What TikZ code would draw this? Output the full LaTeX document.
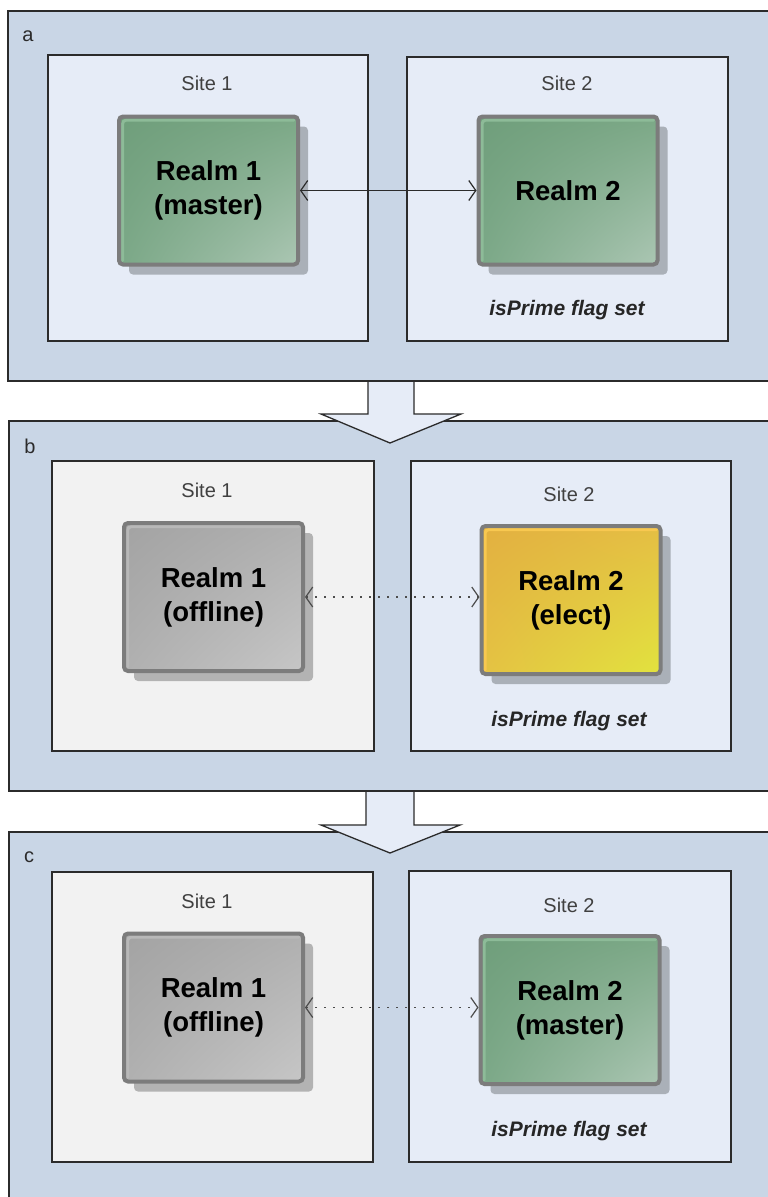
\documentclass[tikz,border=0pt]{standalone}
\usepackage{fontspec}
\setmainfont{Liberation Sans}
\usetikzlibrary{arrows.meta,shadows,shadings}
\definecolor{panelblue}{HTML}{C9D6E6}
\definecolor{sitebg}{HTML}{E6ECF7}
\definecolor{sitegray}{HTML}{F2F2F2}
\definecolor{linedark}{HTML}{2B2B2B}
\definecolor{boxborder}{HTML}{7C7C7C}
\definecolor{shadowblue}{HTML}{AAB0B8}
\definecolor{shadowgray}{HTML}{B3B3B3}
\definecolor{gTL}{HTML}{6F9E7B}
\definecolor{gTR}{HTML}{7BA886}
\definecolor{gBL}{HTML}{7BA887}
\definecolor{gBR}{HTML}{ABC6B3}
\definecolor{gRim}{HTML}{8DBB98}
\definecolor{yTL}{HTML}{E3B040}
\definecolor{yTR}{HTML}{E4BE44}
\definecolor{yBL}{HTML}{E4C243}
\definecolor{yBR}{HTML}{E2E33E}
\definecolor{yRim}{HTML}{F8C850}
\definecolor{kTL}{HTML}{A3A3A3}
\definecolor{kTR}{HTML}{B0B0B0}
\definecolor{kBL}{HTML}{B0B0B0}
\definecolor{kBR}{HTML}{C6C6C6}
\definecolor{kRim}{HTML}{B8B8B8}
\definecolor{sitetext}{HTML}{404040}
\begin{document}
\begin{tikzpicture}[x=1pt,y=-1pt,
  panel/.style={draw=linedark, line width=1.3pt, fill=panelblue, anchor=north west, inner sep=0pt, outer sep=0pt},
  sitebox/.style={draw=linedark, line width=1.3pt, anchor=north west, inner sep=0pt, outer sep=0pt, minimum width=#1},
  sitelabel/.style={text=sitetext, font=\fontsize{20}{24}\selectfont},
  panellabel/.style={text=linedark, font=\fontsize{20}{24}\selectfont},
  flaglabel/.style={text=black!85, font=\fontsize{21}{25}\selectfont\bfseries\itshape},
  realm/.style={draw=boxborder, line width=4pt, rounded corners=4pt, minimum width=179pt, minimum height=148pt,
     align=center, font=\fontsize{27.5}{34}\selectfont\bfseries, inner sep=0pt},
  rim/.style={path picture={\draw[line width=3pt, draw=#1, line cap=round]
     ([xshift=3.5pt,yshift=4pt]path picture bounding box.south west) --
     ([xshift=3.5pt,yshift=-3.5pt]path picture bounding box.north west) --
     ([xshift=-4pt,yshift=-3.5pt]path picture bounding box.north east);}},
  greenrealm/.style={realm, upper left=gTL, upper right=gTR, lower left=gBL, lower right=gBR, rim=gRim,
     drop shadow={shadow xshift=10pt, shadow yshift=-10pt, fill=shadowblue, opacity=1}},
  yellowrealm/.style={realm, upper left=yTL, upper right=yTR, lower left=yBL, lower right=yBR, rim=yRim,
     drop shadow={shadow xshift=10pt, shadow yshift=-10pt, fill=shadowblue, opacity=1}},
  grayrealm/.style={realm, upper left=kTL, upper right=kTR, lower left=kBL, lower right=kBR, rim=kRim,
     drop shadow={shadow xshift=10pt, shadow yshift=-10pt, fill=shadowgray, opacity=1}},
  solidlink/.style={draw=linedark, line width=1.2pt, {Straight Barb[length=7pt,width=20pt,line width=1.2pt]}-{Straight Barb[length=7pt,width=20pt,line width=1.2pt]}},
  dotlink/.style={draw=black!70, line width=1.8pt, dash pattern=on 1.6pt off 7.4pt,
     {Straight Barb[length=7pt,width=20pt,line width=1.2pt]}-{Straight Barb[length=7pt,width=20pt,line width=1.2pt]}},
  transarrow/.style={draw=linedark, line width=1.3pt, fill=sitebg, line join=miter}
]
\useasboundingbox (0,0) rectangle (768,1197);
\clip (0,0) rectangle (768,1197);
\fill[white] (0,0) rectangle (768,1197);

% panels
\node[panel, minimum width=800pt, minimum height=370pt] (pa) at (8,11) {};
\node[panel, minimum width=800pt, minimum height=370pt] (pb) at (9,421) {};
\node[panel, minimum width=800pt, minimum height=400pt] (pc) at (9,832) {};

% transition arrows
\path[transarrow] (368,382) -- (368,414) -- (321,414) -- (390,443) -- (461,414) -- (414,414) -- (414,382);
\path[transarrow] (366,792) -- (366,825) -- (321,825) -- (390,853) -- (460,825) -- (414,825) -- (414,792);

% panel labels
\node[panellabel] (la) at (28,36) {a};
\node[panellabel] (lb) at (30,446) {b};
\node[panellabel] (lc) at (29,857) {c};

% sites
\node[sitebox=320pt, fill=sitebg, minimum height=286pt] (sa1) at (48,55) {};
\node[sitebox=321pt, fill=sitebg, minimum height=284pt] (sa2) at (407,57) {};
\node[sitebox=322pt, fill=sitegray, minimum height=290pt] (sb1) at (52,461) {};
\node[sitebox=320pt, fill=sitebg, minimum height=290pt] (sb2) at (411,461) {};
\node[sitebox=321pt, fill=sitegray, minimum height=290pt] (sc1) at (52,872) {};
\node[sitebox=322pt, fill=sitebg, minimum height=291pt] (sc2) at (409,871) {};

\node[sitelabel] (ta1) at (207,83) {Site 1};
\node[sitelabel] (ta2) at (567,83) {Site 2};
\node[sitelabel] (tb1) at (207,490) {Site 1};
\node[sitelabel] (tb2) at (569,494) {Site 2};
\node[sitelabel] (tc1) at (207,901) {Site 1};
\node[sitelabel] (tc2) at (569,905) {Site 2};

% realms
\node[greenrealm] (ra1) at (208.5,190.5) {Realm 1\\(master)};
\node[greenrealm] (ra2) at (568,190.5) {Realm 2};
\node[grayrealm] (rb1) at (213.5,597) {Realm 1\\(offline)};
\node[yellowrealm] (rb2) at (571,600) {Realm 2\\(elect)};
\node[grayrealm] (rc1) at (213.5,1007.5) {Realm 1\\(offline)};
\node[greenrealm] (rc2) at (570,1010) {Realm 2\\(master)};

\node[flaglabel] (fa) at (567,310) {isPrime flag set};
\node[flaglabel] (fb) at (569,721) {isPrime flag set};
\node[flaglabel] (fc) at (569,1131) {isPrime flag set};

% links
\draw[solidlink] (ra1.east) -- (ra1.east -| ra2.west);
\draw[dotlink] (rb1.east) -- (rb1.east -| rb2.west);
\draw[dotlink] (rc1.east) -- (rc1.east -| rc2.west);
\end{tikzpicture}
\end{document}
